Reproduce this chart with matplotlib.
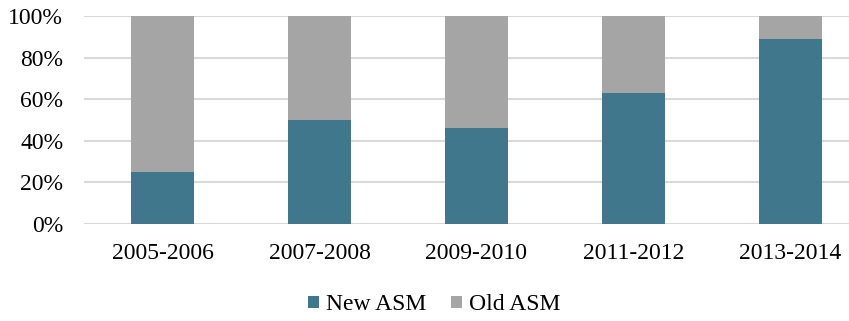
import matplotlib
matplotlib.use("Agg")
import matplotlib.pyplot as plt
from matplotlib.ticker import PercentFormatter

periods = ["2005-2006", "2007-2008", "2009-2010", "2011-2012", "2013-2014"]
new_asm = [25, 50, 46, 63, 89]
old_asm = [100 - v for v in new_asm]

plt.rcParams["font.family"] = ["Liberation Serif", "DejaVu Serif"]

fig = plt.figure(figsize=(8.49, 3.21), dpi=100)
# plot area runs a little past the right edge of the canvas
ax = fig.add_axes([84 / 849, 1 - 224 / 321, 785 / 849, (224 - 16) / 321])

x = range(len(periods))
w = 0.395
ax.bar(x, new_asm, width=w, color="#41778C", label="New ASM", zorder=3)
ax.bar(x, old_asm, width=w, bottom=new_asm, color="#A5A5A5", label="Old ASM", zorder=3)

ax.set_xlim(-0.5, len(periods) - 0.5)
ax.set_ylim(0, 100)
ax.set_yticks(range(0, 101, 20))
ax.yaxis.set_major_formatter(PercentFormatter(decimals=0))
ax.set_xticks(list(x))
ax.set_xticklabels(periods)
ax.tick_params(axis="both", length=0, labelsize=17, colors="black")
ax.tick_params(axis="x", pad=14)
ax.tick_params(axis="y", pad=15)
ax.grid(axis="y", color="#D9D9D9", linewidth=1.5, zorder=0)
for s in ax.spines.values():
    s.set_visible(False)

fig.legend(loc="center", bbox_to_anchor=(434 / 849, 1 - 305 / 321), ncol=2,
           frameon=False, fontsize=17, handlelength=0.45, handleheight=0.45,
           handletextpad=0.3, columnspacing=1.06)

fig.savefig("out.png", dpi=100)
